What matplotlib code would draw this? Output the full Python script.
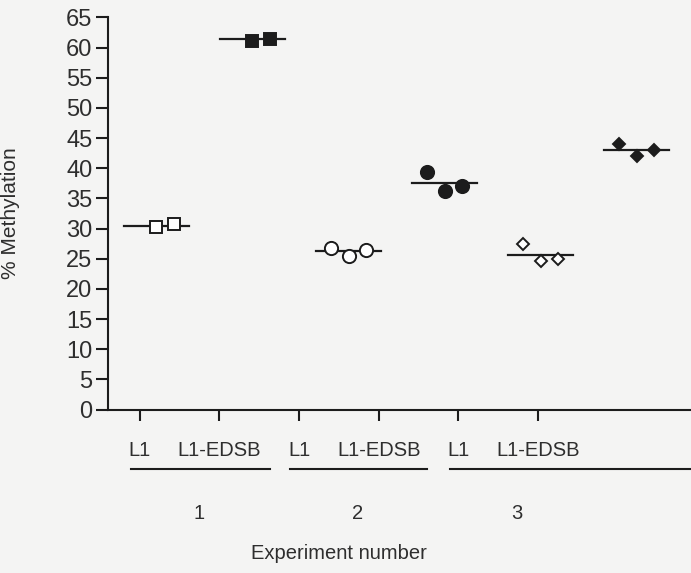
import numpy as np
import matplotlib.pyplot as plt
from matplotlib.transforms import blended_transform_factory

plt.rcParams['font.family'] = ['Liberation Sans', 'DejaVu Sans']

# data (% methylation)
labels = ['L1', 'L1-EDSB', 'L1', 'L1-EDSB', 'L1', 'L1-EDSB']
experiments = ['1', '2', '3']
l1_exp1 = [30.3, 30.8]
edsb_exp1 = [61.1, 61.5]
l1_exp2 = [26.7, 25.5, 26.5]
edsb_exp2 = [39.3, 36.3, 37.1]
l1_exp3 = [27.4, 24.6, 25.0]
edsb_exp3 = [44.1, 42.0, 43.0]
mean_lines = [30.5, 61.5, 26.3, 37.6, 25.7, 43.1]

series = [l1_exp1, edsb_exp1, l1_exp2, edsb_exp2, l1_exp3, edsb_exp3]
markers = ['s', 's', 'o', 'o', 'D', 'D']
filled = [False, True, False, True, False, True]
msizes = [8.5, 8.5, 9.5, 9.5, 6, 6]
offsets = [[0, 0.22], [0, 0.22], [-0.22, 0, 0.22], [-0.22, 0, 0.22],
           [-0.22, 0, 0.22], [-0.22, 0, 0.22]]

ink = '#1c1c1c'
txt = '#2e2e2e'
bg = '#f4f4f3'

fig = plt.figure(figsize=(6.91, 5.73), dpi=100, facecolor=bg)
ax = fig.add_axes([0.156, 0.2853, 0.844, 0.6842])
ax.set_facecolor(bg)

# the scatter groups sit on their own spacing, not on the ticks
centers = 1.21 + 1.206 * np.arange(6)
for i, vals in enumerate(series):
    xs = centers[i] + np.array(offsets[i])
    ax.plot([centers[i] - 0.41, centers[i] + 0.41], [mean_lines[i]] * 2,
            color=ink, lw=1.6, zorder=2)
    ax.plot(xs, vals, linestyle='none', marker=markers[i], ms=msizes[i],
            mfc=ink if filled[i] else 'white', mec=ink, mew=1.4, zorder=3)

ax.set_xlim(0.6, 7.92)
ax.set_ylim(0, 65)
ax.set_yticks(np.arange(0, 66, 5))
ax.set_xticks(np.arange(1, 7))
ax.set_xticklabels(labels)

for s in ['top', 'right']:
    ax.spines[s].set_visible(False)
for s in ['left', 'bottom']:
    ax.spines[s].set_linewidth(1.5)
    ax.spines[s].set_color(ink)

ax.tick_params(axis='y', length=9, width=1.5, color=ink, pad=2,
               labelsize=17, labelcolor=txt)
ax.tick_params(axis='x', length=8, width=1.5, color=ink, pad=15,
               labelsize=14.5, labelcolor=txt)

ax.set_ylabel('% Methylation', fontsize=15, color=txt)
ax.yaxis.set_label_coords(-0.151, 0.5)

# group underlines and experiment numbers
tr = blended_transform_factory(ax.transData, fig.transFigure)
line_ends = [2.63, 4.61, 7.92]
for g, name in enumerate(experiments):
    start = 1 + 2 * g
    ax.plot([start - 0.11, line_ends[g]], [0.1815, 0.1815], transform=tr,
            color=ink, lw=1.5, clip_on=False)
    fig.text(start + 0.74, 0.1047, name, transform=tr, ha='center',
             va='center', fontsize=14.5, color=txt)

fig.text(339 / 691, 0.0349, 'Experiment number', ha='center', va='center',
         fontsize=14.5, color=txt)

fig.savefig('out.png', dpi=100, facecolor=bg)
